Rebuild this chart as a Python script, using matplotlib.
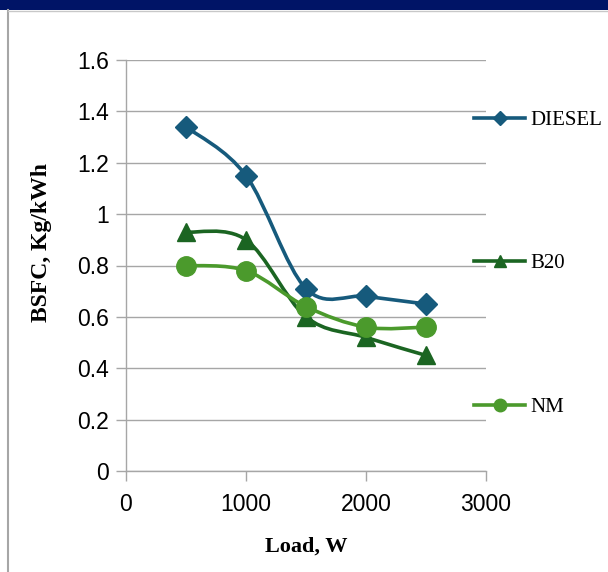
import matplotlib
matplotlib.use("Agg")
import matplotlib.pyplot as plt
from matplotlib.path import Path
from matplotlib.patches import PathPatch, Rectangle
from matplotlib.lines import Line2D
from matplotlib.ticker import FuncFormatter

# datos
load = [500, 1000, 1500, 2000, 2500]
diesel = [1.34, 1.15, 0.71, 0.68, 0.65]
b20 = [0.93, 0.90, 0.60, 0.52, 0.45]
nm = [0.80, 0.78, 0.64, 0.56, 0.56]

series_names = ["DIESEL", "B20", "NM"]
series_values = [diesel, b20, nm]
colores = ["#165a7c", "#1b6522", "#4b9a2c"]
marcadores = ["D", "^", "o"]
tam_marcador = [11, 13, 14]
tam_leyenda = [7, 8, 9]


def curva_suave(xs, ys):
    # segmentos bezier estilo Excel (Catmull-Rom)
    pts = list(zip(xs, ys))
    verts = [pts[0]]
    codes = [Path.MOVETO]
    n = len(pts)
    for i in range(n - 1):
        p0 = pts[i - 1] if i > 0 else pts[i]
        p1 = pts[i]
        p2 = pts[i + 1]
        p3 = pts[i + 2] if i + 2 < n else pts[i + 1]
        c1 = (p1[0] + (p2[0] - p0[0]) / 6, p1[1] + (p2[1] - p0[1]) / 6)
        c2 = (p2[0] - (p3[0] - p1[0]) / 6, p2[1] - (p3[1] - p1[1]) / 6)
        verts += [c1, c2, p2]
        codes += [Path.CURVE4] * 3
    return Path(verts, codes)


fig = plt.figure(figsize=(6.08, 5.72), dpi=100)
ax = fig.add_axes([126 / 608, 1 - 471 / 572, 360 / 608, 411 / 572])

# barra superior y borde izquierdo
fig.patches.append(Rectangle((0, 1 - 10 / 572), 1, 10 / 572, transform=fig.transFigure,
                             facecolor="#001466", edgecolor="none", zorder=0))
fig.lines.append(Line2D([8 / 608, 8 / 608], [0, 1 - 10 / 572], transform=fig.transFigure,
                        color="#a6a6a6", lw=1.5))
fig.lines.append(Line2D([8 / 608, 1], [1 - 10.5 / 572, 1 - 10.5 / 572], transform=fig.transFigure,
                        color="#c8c8c8", lw=1))

handles = []
for nombre, vals, c, m, ms in zip(series_names, series_values, colores, marcadores, tam_marcador):
    ax.add_patch(PathPatch(curva_suave(load, vals), facecolor="none", edgecolor=c,
                           lw=2.6, zorder=3, capstyle="round"))
    ax.plot(load, vals, linestyle="none", marker=m, ms=ms, color=c, zorder=4)
    handles.append(Line2D([], [], color=c, lw=2.6, marker=m, ms=ms))

ax.set_xlim(0, 3000)
ax.set_ylim(0, 1.6)
ax.set_xticks([0, 1000, 2000, 3000])
ax.set_yticks([0, 0.2, 0.4, 0.6, 0.8, 1.0, 1.2, 1.4, 1.6])
ax.yaxis.set_major_formatter(FuncFormatter(lambda v, p: "%g" % v))

ax.grid(axis="y", color="#a6a6a6", lw=1)
ax.set_axisbelow(True)
for lado in ["top", "right"]:
    ax.spines[lado].set_visible(False)
for lado in ["left", "bottom"]:
    ax.spines[lado].set_color("#a6a6a6")
    ax.spines[lado].set_linewidth(1)
ax.tick_params(axis="both", direction="out", length=7, width=1, color="#a6a6a6",
               labelsize=16.5, labelcolor="black")
for t in ax.get_xticklabels() + ax.get_yticklabels():
    t.set_fontfamily("Liberation Sans")
ax.tick_params(axis="x", pad=9)
ax.tick_params(axis="y", pad=5)

ax.set_xlabel("Load, W", fontsize=16, fontweight="bold", family="Liberation Serif", labelpad=15)
# la etiqueta del eje y está algo por encima del centro
fig.text(42 / 608, 1 - 242 / 572, "BSFC, Kg/kWh", rotation=90, ha="center", va="center",
         fontsize=17, fontweight="bold", family="Liberation Serif")

leg = ax.legend(handles, series_names, loc="upper left", bbox_to_anchor=(340 / 360, 1 - 42 / 411),
                frameon=False, labelspacing=5.95, handlelength=2.45, handletextpad=0.25,
                borderaxespad=0, prop={"family": "Liberation Serif", "size": 15})
for h, ms in zip(leg.legend_handles, tam_leyenda):
    h.set_markersize(ms)

fig.savefig("out.png", dpi=100)
